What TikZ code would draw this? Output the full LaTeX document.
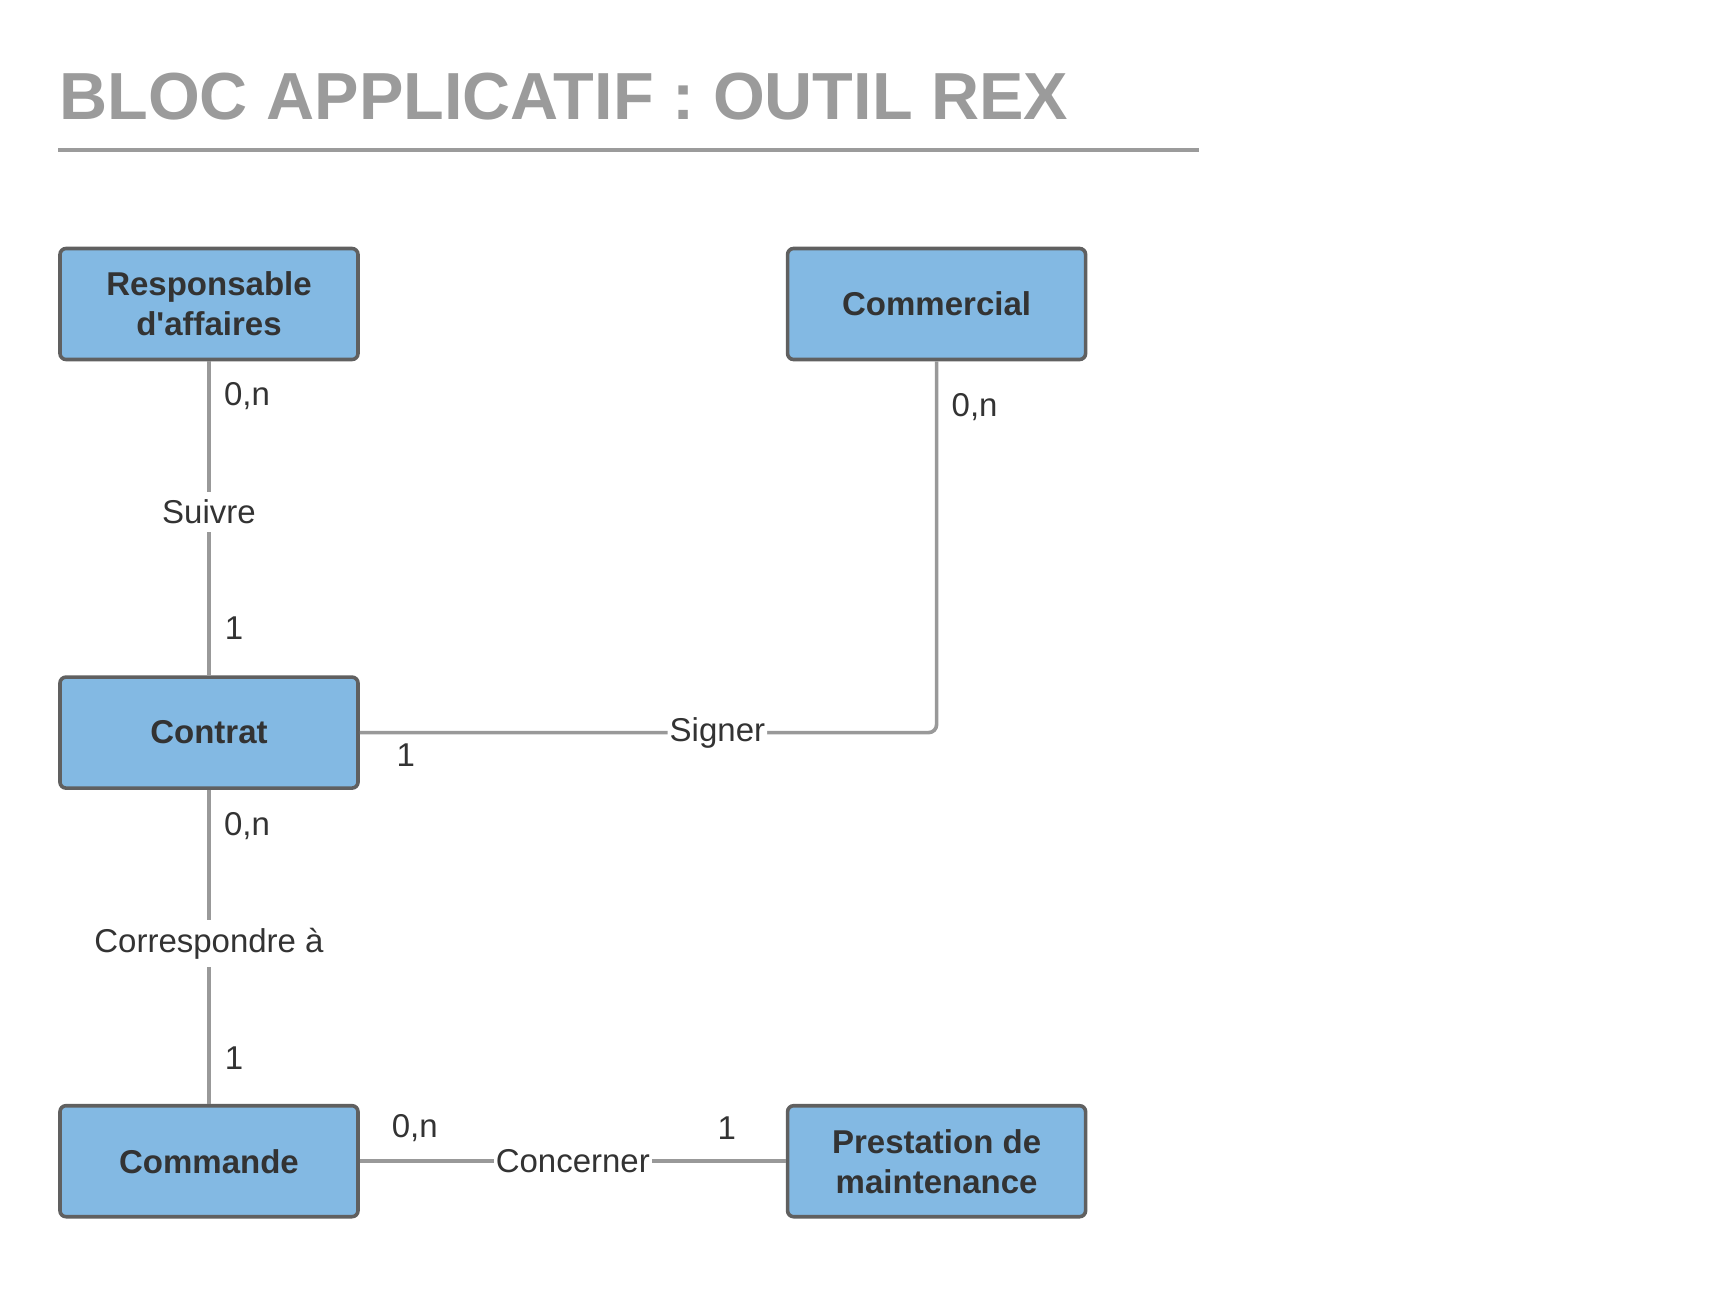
\documentclass[tikz,border=0pt]{standalone}
\usepackage{fontspec}
\setmainfont{Liberation Sans}
\usetikzlibrary{positioning, calc}
\usepackage{xcolor}
\definecolor{boxblue}{RGB}{131,185,227}
\definecolor{boxedge}{RGB}{96,96,96}
\definecolor{linkgray}{RGB}{153,153,153}
\definecolor{txtdark}{RGB}{51,51,51}
\definecolor{titlegray}{RGB}{155,155,155}

\begin{document}
\begin{tikzpicture}[
  x=0.5pt, y=-0.5pt,
  entity/.style={rectangle, draw=boxedge, fill=boxblue, line width=1.8pt, rounded corners=3pt,
                 minimum width=149pt, minimum height=55.5pt,
                 font=\fontsize{16.5}{20}\selectfont\bfseries, text=txtdark, align=center},
  link/.style={draw=linkgray, line width=1.8pt},
  assoc/.style={font=\fontsize{16.5}{20}\selectfont, text=txtdark, fill=white,
                inner xsep=1pt, inner ysep=4pt},
  card/.style={font=\fontsize{16.5}{20}\selectfont, text=txtdark, inner sep=1pt},
  title/.style={font=\fontsize{33.3}{40}\selectfont\bfseries, text=titlegray, inner sep=0pt},
  rule/.style={draw=titlegray, line width=1.6pt}
]
\useasboundingbox (0,0) rectangle (1725,1290);

% ===== TITLE =====
\node[title, anchor=base west] (title) at (59,119) {BLOC APPLICATIF : OUTIL REX};
\draw[rule] (58,150) -- (1199,150);

% ===== ENTITIES =====
\node[entity] (resp) at (209,304) {Responsable\\d\textquotesingle affaires};
\node[entity, right=213pt of resp] (comm) {Commercial};
\node[entity, below=157pt of resp] (contrat) {Contrat};
\node[entity, below=157pt of contrat] (commande) {Commande};
\node[entity, right=213pt of commande] (presta) {Prestation de\\maintenance};

% ===== ASSOCIATIONS =====
\draw[link] (resp.south) -- node[assoc, pos=0.48] (suivre) {Suivre} (contrat.north);
\draw[link, rounded corners=4pt] (comm.south) |- node[assoc, pos=0.69] (signer) {Signer} (contrat.east);
\draw[link] (contrat.south) -- node[assoc, pos=0.49] (corresp) {Correspondre à} (commande.north);
\draw[link] (commande.east) -- node[assoc] (concerner) {Concerner} (presta.west);

% ===== CARDINALITIES =====
\node[card] (cRespSuivre) at ($(resp.south)+(38,35)$) {0,n};
\node[card] (cContratSuivre) at ($(contrat.north)+(25,-47)$) {1};
\node[card] (cCommSigner) at ($(comm.south)+(38,46)$) {0,n};
\node[card] (cContratSigner) at ($(contrat.east)+(46,23)$) {1};
\node[card] (cContratCorresp) at ($(contrat.south)+(38,36)$) {0,n};
\node[card] (cCommandeCorresp) at ($(commande.north)+(25,-46)$) {1};
\node[card] (cCommandeConc) at ($(commande.east)+(55,-33)$) {0,n};
\node[card] (cPrestaConc) at ($(presta.west)+(-59,-33)$) {1};

\end{tikzpicture}
\end{document}
